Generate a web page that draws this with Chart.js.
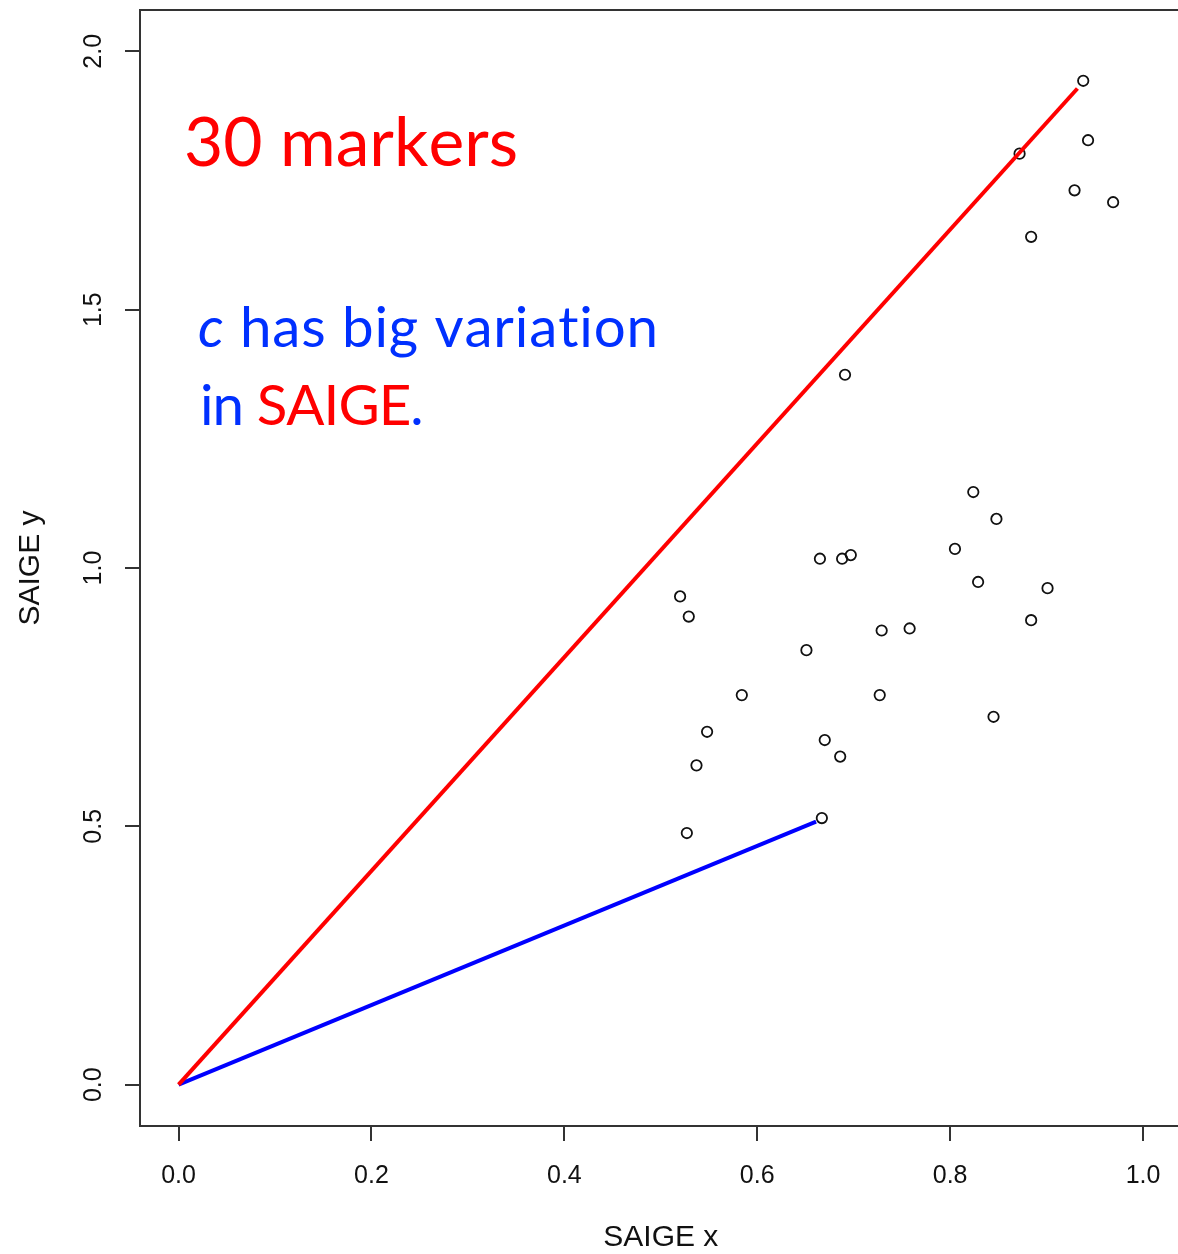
<!DOCTYPE html>
<html>
<head>
<meta charset="utf-8">
<title>SAIGE x vs SAIGE y</title>
<script src="https://cdn.jsdelivr.net/npm/chart.js@4.4.1/dist/chart.umd.min.js"></script>
<style>
  html, body { margin: 0; padding: 0; background: #ffffff; overflow: hidden; }
  #wrap { width: 1178px; height: 1254px; position: relative; overflow: hidden; }
  canvas { display: block; }
</style>
</head>
<body>
<div id="wrap"><canvas id="plot" width="1200" height="1254"></canvas></div>
<script>
// Per-marker estimates (30 markers)
const markerX = [0.938, 0.943, 0.872, 0.929, 0.969, 0.884, 0.691, 0.824, 0.848, 0.805,
                 0.697, 0.688, 0.665, 0.829, 0.901, 0.520, 0.529, 0.884, 0.729, 0.758,
                 0.651, 0.584, 0.727, 0.845, 0.548, 0.670, 0.537, 0.686, 0.667, 0.527];
const markerY = [1.943, 1.828, 1.802, 1.731, 1.708, 1.641, 1.374, 1.147, 1.095, 1.037,
                 1.025, 1.018, 1.018, 0.973, 0.961, 0.945, 0.906, 0.899, 0.879, 0.883,
                 0.841, 0.754, 0.754, 0.712, 0.683, 0.667, 0.618, 0.635, 0.516, 0.487];

// Reference segments from the origin
const redLineX = [0, 0.932];
const redLineY = [0, 1.928];
const blueLineX = [0, 0.661];
const blueLineY = [0, 0.509];

// Axes
const xTicks = [0.0, 0.2, 0.4, 0.6, 0.8, 1.0];
const yTicks = [0.0, 0.5, 1.0, 1.5, 2.0];
const xRange = [-0.04, 1.04];
const yRange = [-0.08, 2.08];
const xTitle = 'SAIGE x';
const yTitle = 'SAIGE y';

const RED = '#ff0000';
const BLUE = '#0000ff';
const TEXT_BLUE = '#0030ff';
const AXIS = '#333333';
const INK = '#111111';
const TICK_FONT = { family: "'Liberation Sans', Arial, sans-serif", size: 25 };
const TITLE_FONT = { family: "'Liberation Sans', Arial, sans-serif", size: 30 };
const NOTE_FAMILY = "Lato, 'Open Sans', sans-serif";

const toPoints = (xs, ys) => xs.map((x, i) => ({ x: x, y: ys[i] }));

// Top edge of the plot box (left and bottom come from the axis borders;
// the right edge lies just past the visible page)
const frame = {
  id: 'frame',
  afterDraw(chart) {
    const { ctx, chartArea: a } = chart;
    ctx.save();
    ctx.strokeStyle = AXIS;
    ctx.lineWidth = 2;
    ctx.beginPath();
    ctx.moveTo(a.left - 1, a.top);
    ctx.lineTo(a.right, a.top);
    ctx.stroke();
    ctx.restore();
  }
};

// Text runs: characters are placed one by one so no ligatures form
const fontOf = (r, s) => (r.italic ? 'italic ' : '') + s + 'px ' + NOTE_FAMILY;
function runsWidth(ctx, runs, size) {
  let w = 0;
  runs.forEach(r => { ctx.font = fontOf(r, size); w += ctx.measureText(r.t).width; });
  return w;
}
function drawRuns(ctx, runs, x, y, size, width) {
  const chars = runs.reduce((n, r) => n + r.t.length, 0);
  const natural = runsWidth(ctx, runs, size);
  const spacing = width ? (width - natural) / chars : 0;
  let cx = x;
  runs.forEach(r => {
    ctx.font = fontOf(r, size);
    ctx.fillStyle = r.c;
    for (const ch of r.t) {
      ctx.fillText(ch, cx, y);
      cx += ctx.measureText(ch).width + spacing;
    }
  });
}

const line1 = [{ t: '30 markers', c: RED }];
const line2 = [{ t: 'c', c: TEXT_BLUE, italic: true }, { t: ' has big variation', c: TEXT_BLUE }];
const line3 = [{ t: 'in ', c: TEXT_BLUE }, { t: 'SAIGE', c: RED }, { t: '.', c: TEXT_BLUE }];

const notes = {
  id: 'notes',
  afterDraw(chart) {
    const ctx = chart.ctx;
    const a = chart.chartArea;
    ctx.save();
    ctx.textAlign = 'left';
    ctx.textBaseline = 'alphabetic';
    const base = 50;
    const s1 = base * 332 / runsWidth(ctx, line1, base);
    drawRuns(ctx, line1, a.left + 44, 166, s1, 332);
    const f2 = base * 461 / runsWidth(ctx, line2, base);
    const f3 = base * 222 / runsWidth(ctx, line3, base);
    const s2 = (f2 + f3) / 2;
    drawRuns(ctx, line2, a.left + 58, 347, s2, 461);
    drawRuns(ctx, line3, a.left + 60, 425, s2, 222);
    ctx.restore();
  }
};

new Chart(document.getElementById('plot'), {
  type: 'scatter',
  data: {
    datasets: [
      {
        label: 'red',
        data: toPoints(redLineX, redLineY),
        showLine: true,
        borderColor: RED,
        borderWidth: 4,
        pointRadius: 0,
        order: 0
      },
      {
        label: 'blue',
        data: toPoints(blueLineX, blueLineY),
        showLine: true,
        borderColor: BLUE,
        borderWidth: 4,
        pointRadius: 0,
        order: 1
      },
      {
        label: 'markers',
        data: toPoints(markerX, markerY),
        pointStyle: 'circle',
        pointRadius: 5.2,
        pointBorderWidth: 1.8,
        borderColor: '#111111',
        backgroundColor: 'rgba(0,0,0,0)',
        order: 2
      }
    ]
  },
  options: {
    responsive: false,
    animation: false,
    events: [],
    layout: { padding: { left: 0, top: 10, right: 18.4, bottom: 0 } },
    plugins: { legend: { display: false }, tooltip: { enabled: false } },
    scales: {
      x: {
        type: 'linear',
        position: 'bottom',
        min: xRange[0],
        max: xRange[1],
        afterBuildTicks: s => { s.ticks = xTicks.map(v => ({ value: v })); },
        afterFit: s => { s.height = 128; s.paddingLeft = 0; s.paddingRight = 0; },
        grid: { display: true, drawOnChartArea: false, drawTicks: true, tickLength: 15, color: AXIS, lineWidth: 2 },
        border: { display: true, color: AXIS, width: 2 },
        ticks: {
          font: TICK_FONT, color: INK, padding: 20,
          minRotation: 0, maxRotation: 0, autoSkip: false,
          callback: v => Number(v).toFixed(1)
        },
        title: { display: true, text: xTitle, font: TITLE_FONT, color: INK, padding: { top: 0, bottom: -2 } }
      },
      y: {
        type: 'linear',
        position: 'left',
        min: yRange[0],
        max: yRange[1],
        afterBuildTicks: s => { s.ticks = yTicks.map(v => ({ value: v })); },
        afterFit: s => { s.width = 140; s.paddingTop = 0; s.paddingBottom = 0; },
        grid: { display: true, drawOnChartArea: false, drawTicks: true, tickLength: 15, color: AXIS, lineWidth: 2 },
        border: { display: true, color: AXIS, width: 2 },
        ticks: {
          font: TICK_FONT, color: INK, padding: 14,
          minRotation: 90, maxRotation: 90, crossAlign: 'center', autoSkip: false,
          callback: v => Number(v).toFixed(1)
        },
        title: { display: true, text: yTitle, font: TITLE_FONT, color: INK, padding: { top: 13, bottom: 0 } }
      }
    }
  },
  plugins: [frame, notes]
});
</script>
</body>
</html>
